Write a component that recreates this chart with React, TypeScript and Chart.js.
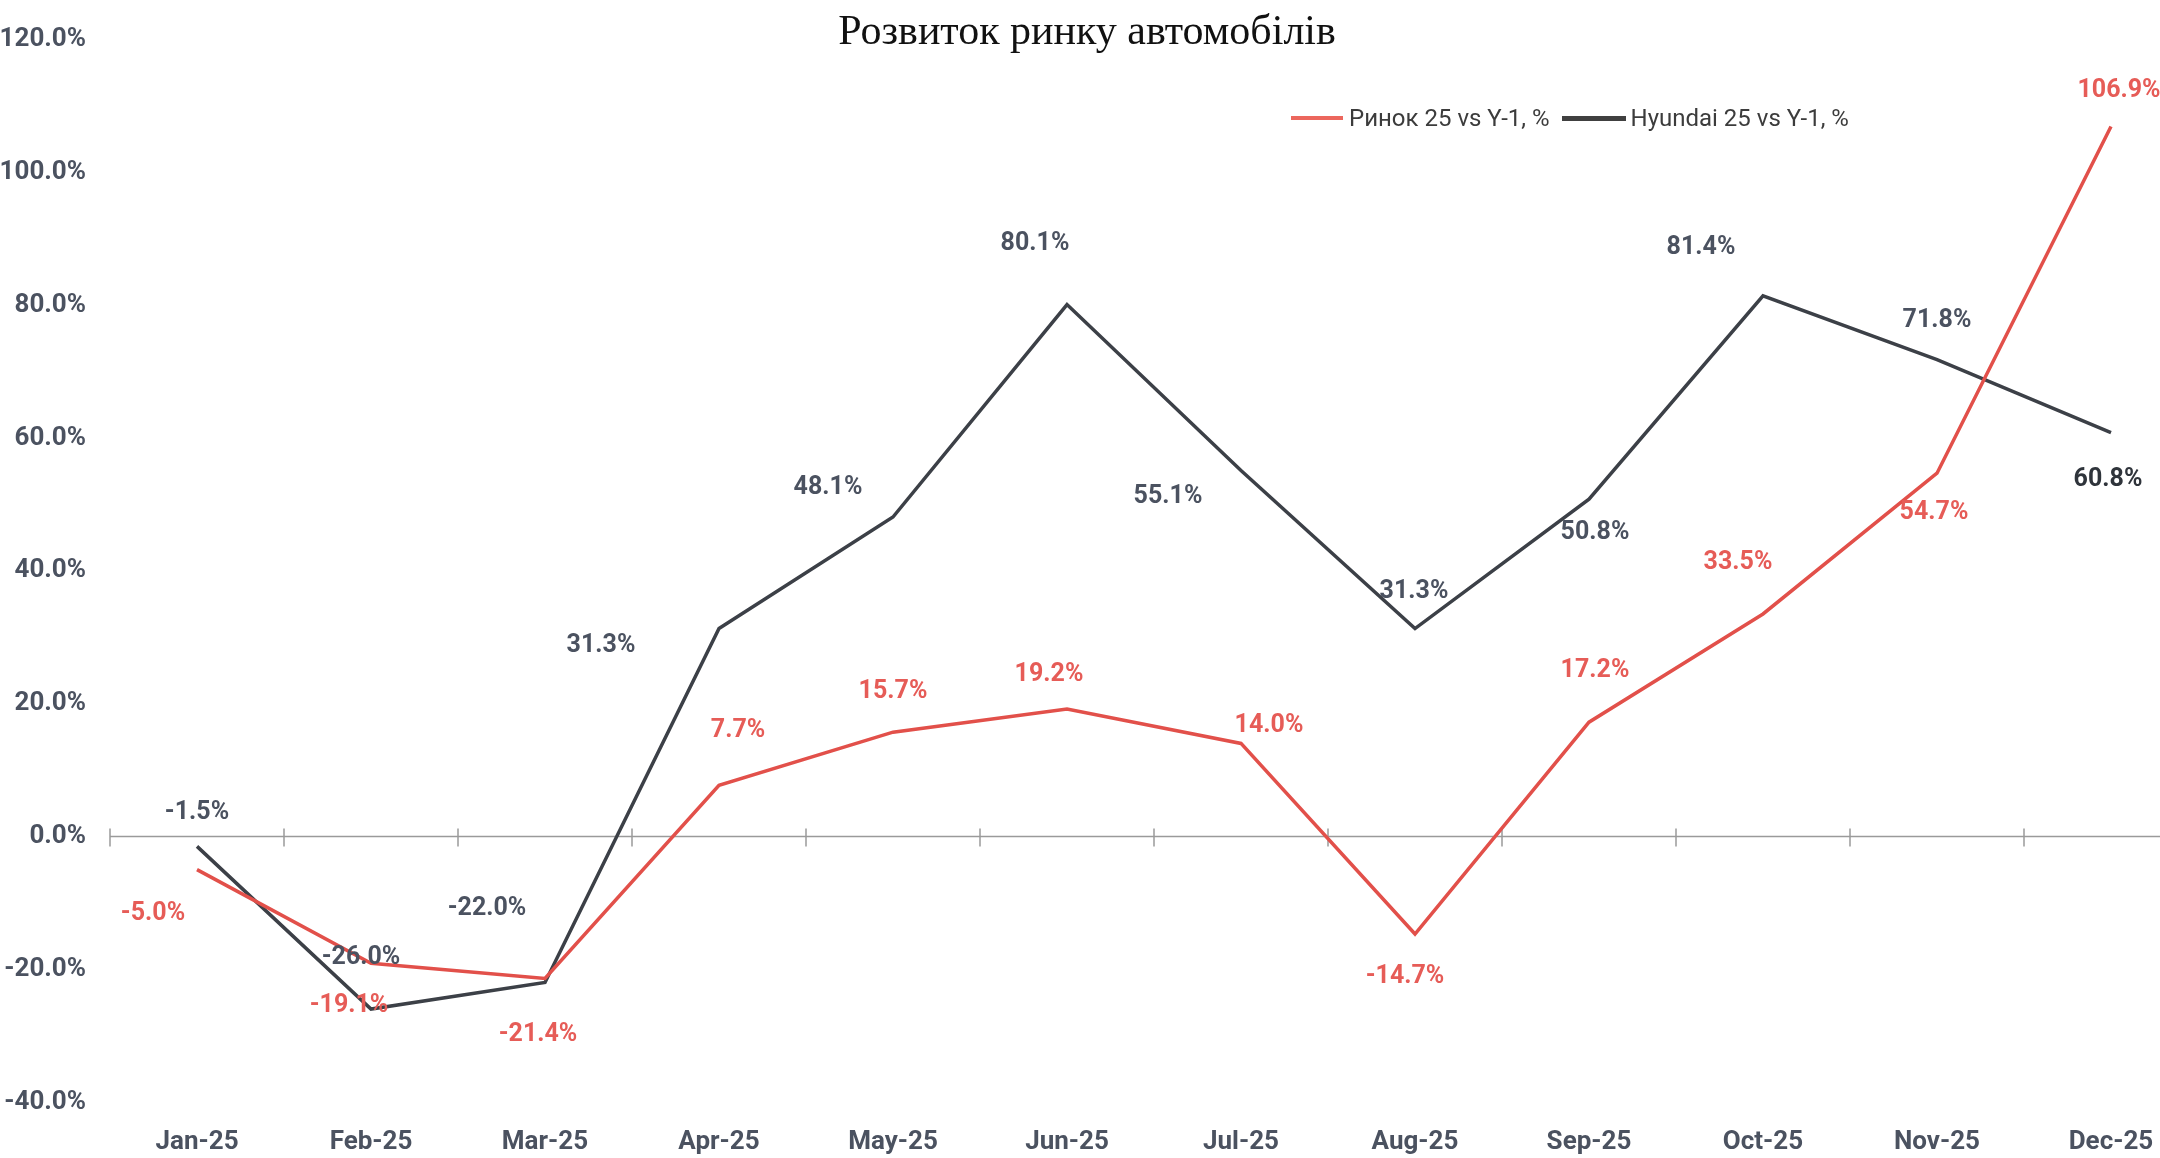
import React, { useEffect, useRef } from "react";
import { Chart, registerables } from "chart.js";

Chart.register(...registerables);

const chartTitle = "Розвиток ринку автомобілів";
const months = ["Jan-25", "Feb-25", "Mar-25", "Apr-25", "May-25", "Jun-25", "Jul-25", "Aug-25", "Sep-25", "Oct-25", "Nov-25", "Dec-25"];
const seriesNames = ["Ринок 25 vs Y-1, %", "Hyundai 25 vs Y-1, %"];
const marketValues = [-5.0, -19.1, -21.4, 7.7, 15.7, 19.2, 14.0, -14.7, 17.2, 33.5, 54.7, 106.9];
const hyundaiValues = [-1.5, -26.0, -22.0, 31.3, 48.1, 80.1, 55.1, 31.3, 50.8, 81.4, 71.8, 60.8];
const yTickValues = [-40, -20, 0, 20, 40, 60, 80, 100, 120];

// label placement (pixel offsets from each point), layout only
const marketLabelOffsets = [[-44, 44], [-22, 43], [-7, 56], [19, -55], [0, -40], [-18, -34], [28, -18], [-10, 43], [6, -51], [-25, -51], [-3, 40], [8, -36]];
const hyundaiLabelOffsets = [[0, -34], [-10, -51], [-58, -74], [-118, 17], [-65, -29], [-32, -61], [-73, 26], [-1, -37], [6, 34], [-62, -48], [0, -39], [-3, 47]];

const RED = "#e2504a";
const RED_TEXT = "#e65c57";
const DARK = "#3c4047";
const DARK_TEXT = "#4b5260";
const FONT = '"Liberation Sans Narrow", "Arial Narrow", "Roboto", sans-serif';

const W = 2210;
const H = 1158;

const labelPlugin = {
  id: "pointLabels",
  afterDatasetsDraw(chart: any) {
    const ctx = chart.ctx;
    ctx.save();
    ctx.textAlign = "center";
    ctx.textBaseline = "middle";
    chart.data.datasets.forEach((ds: any, di: number) => {
      const meta = chart.getDatasetMeta(di);
      const offs = di === 0 ? marketLabelOffsets : hyundaiLabelOffsets;
      ctx.font = `bold 25px ${FONT}`;
      meta.data.forEach((pt: any, i: number) => {
        const v = ds.data[i] as number;
        ctx.fillStyle = di === 0 ? RED_TEXT : i === meta.data.length - 1 ? "#2f343b" : DARK_TEXT;
        ctx.fillText(v.toFixed(1) + "%", pt.x + offs[i][0], pt.y + offs[i][1]);
      });
    });
    ctx.restore();
  },
};

const zeroLinePlugin = {
  id: "zeroLine",
  beforeDatasetsDraw(chart: any) {
    const ctx = chart.ctx;
    const x = chart.scales.x;
    const y = chart.scales.y;
    const y0 = y.getPixelForValue(0);
    const step = x.getPixelForValue(1) - x.getPixelForValue(0);
    ctx.save();
    ctx.strokeStyle = "#9a9a9a";
    ctx.lineWidth = 1.5;
    ctx.beginPath();
    ctx.moveTo(chart.chartArea.left, y0);
    ctx.lineTo(chart.chartArea.right, y0);
    for (let i = 0; i <= months.length; i++) {
      const px = x.getPixelForValue(0) - step / 2 + i * step;
      ctx.moveTo(px, y0 - 8);
      ctx.lineTo(px, y0 + 10);
    }
    ctx.stroke();
    ctx.restore();
  },
};

export default function App() {
  const ref = useRef<HTMLCanvasElement | null>(null);

  useEffect(() => {
    if (!ref.current) return;
    const chart = new Chart(ref.current, {
      type: "line",
      data: {
        labels: months,
        datasets: [
          {
            label: seriesNames[0],
            data: marketValues,
            borderColor: RED,
            backgroundColor: RED,
            borderWidth: 3.5,
            pointRadius: 0,
            tension: 0,
          },
          {
            label: seriesNames[1],
            data: hyundaiValues,
            borderColor: DARK,
            backgroundColor: DARK,
            borderWidth: 3.5,
            pointRadius: 0,
            tension: 0,
          },
        ],
      },
      options: {
        responsive: false,
        animation: false,
        devicePixelRatio: 1,
        layout: { padding: { top: 39, right: 12, left: 0, bottom: 0 } },
        plugins: {
          legend: { display: false },
          title: { display: false },
          tooltip: { enabled: false },
        },
        scales: {
          x: {
            offset: true,
            grid: { display: false, drawTicks: false },
            border: { display: false },
            ticks: {
              color: DARK_TEXT,
              font: { family: FONT, size: 26, weight: "bold" },
              padding: 25,
              maxRotation: 0,
              autoSkip: false,
            },
            afterFit(scale: any) {
              scale.height = 56;
            },
          },
          y: {
            min: -40,
            max: 120,
            grid: { display: false, drawTicks: false },
            border: { display: false },
            afterBuildTicks(scale: any) {
              scale.ticks = yTickValues.map((v) => ({ value: v }));
            },
            ticks: {
              color: DARK_TEXT,
              font: { family: FONT, size: 26, weight: "bold" },
              padding: 24,
              callback: (v: any) => Number(v).toFixed(1) + "%",
            },
            afterFit(scale: any) {
              scale.width = 110;
            },
          },
        },
      },
      plugins: [zeroLinePlugin, labelPlugin],
    });
    return () => chart.destroy();
  }, []);

  return (
    <div style={{ position: "absolute", left: 0, top: 0, width: 2160, height: 1158, overflow: "hidden", background: "#fff" }}>
      <canvas ref={ref} width={W} height={H} style={{ position: "absolute", left: 0, top: 0, width: W, height: H }} />
      <div
        style={{
          position: "absolute",
          left: 1087,
          top: 30,
          transform: "translate(-50%, -50%)",
          fontFamily: '"Liberation Serif", "Times New Roman", serif',
          fontSize: 42,
          color: "#111",
          whiteSpace: "nowrap",
        }}
      >
        {chartTitle}
      </div>
      <div
        style={{
          position: "absolute",
          left: 1291,
          top: 118,
          transform: "translateY(-50%)",
          display: "flex",
          alignItems: "center",
          fontFamily: FONT,
          fontSize: 24,
          color: "#3c3c3c",
          whiteSpace: "nowrap",
        }}
      >
        <span style={{ display: "inline-block", width: 52, height: 4, background: "#ec675d", marginRight: 6 }} />
        <span style={{ marginRight: 12 }}>{seriesNames[0]}</span>
        <span style={{ display: "inline-block", width: 64, height: 5, background: "#404040", marginRight: 5 }} />
        <span>{seriesNames[1]}</span>
      </div>
    </div>
  );
}
